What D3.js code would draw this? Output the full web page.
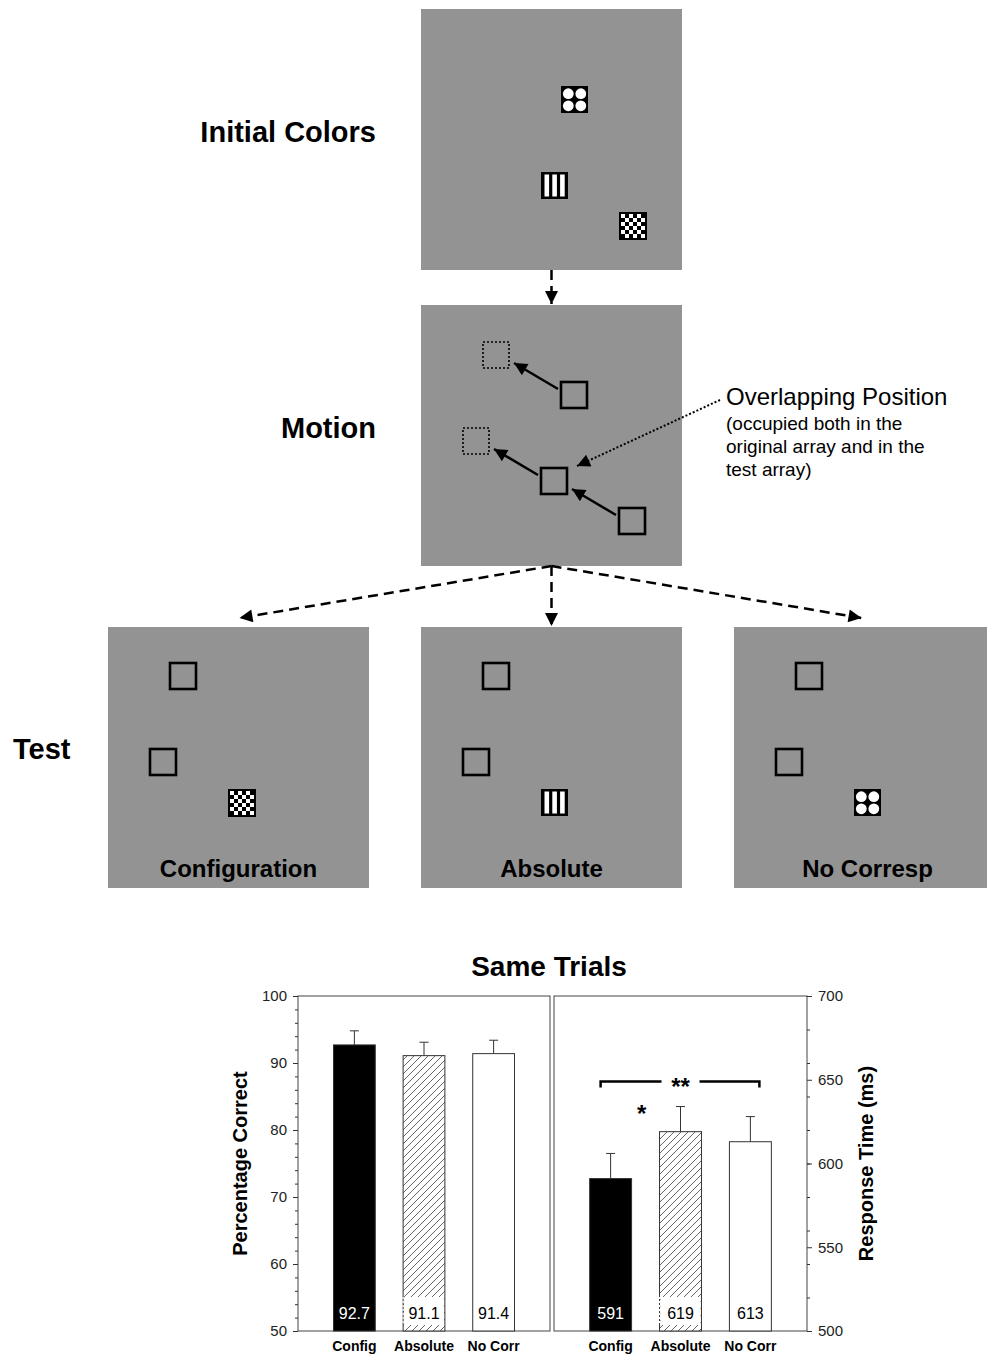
<!DOCTYPE html>
<html>
<head>
<meta charset="utf-8">
<script src="https://d3js.org/d3.v7.min.js"></script>
<style>
  body { margin: 0; background: #fff; }
  svg { display: block; font-family: "Liberation Sans", Arial, sans-serif; }
</style>
</head>
<body>
<div id="svg-container"></div>
<script>
////////////////////////////////////////////////////////////////////
////////////////////////////  Data  ////////////////////////////////
const conditions = ["Config", "Absolute", "No Corr"];
const accuracy = [92.7, 91.1, 91.4];
const accuracyErr = [2.1, 2.0, 2.0];
const responseTime = [591, 619, 613];
const responseTimeErr = [15, 15, 15];
const accTicks = [50, 60, 70, 80, 90, 100];
const rtTicks = [500, 550, 600, 650, 700];
const stepLabels = ["Initial Colors", "Motion", "Test"];
const testLabels = ["Configuration", "Absolute", "No Corresp"];
const testIcons = ["checker", "stripes", "dots"];
const itemIcons = ["dots", "stripes", "checker"];
const noteTitle = "Overlapping Position";
const noteLines = ["(occupied both in the", "original array and in the", "test array)"];
const checkerRows = ["101010", "010101", "101010", "010101", "101010", "010101"];

////////////////////////////////////////////////////////////////////
////////////////////////////  Init  ////////////////////////////////
const width = 987, height = 1355;
const svg = d3.select("#svg-container").append("svg")
    .attr("width", width).attr("height", height);

const grey = "#939393";
const P = 261; // panel size
const topPanel = { x: 421, y: 9 };
const motionPanel = { x: 421, y: 305 };
const testPanels = [108, 421, 734].map((x) => ({ x: x, y: 627 }));
const S = 27; // item size
const origPos = [[140, 77], [120, 163], [198, 203]];
const shift = [-78, -40];
const movedPos = origPos.map((p) => [p[0] + shift[0], p[1] + shift[1]]);

const defs = svg.append("defs");
defs.append("marker")
    .attr("id", "head")
    .attr("viewBox", "0 0 10 10")
    .attr("refX", 10).attr("refY", 5)
    .attr("markerWidth", 15).attr("markerHeight", 13)
    .attr("markerUnits", "userSpaceOnUse")
    .attr("orient", "auto")
    .append("path").attr("d", "M0,0 L10,5 L0,10 Z").attr("fill", "#000");

const hatch = defs.append("pattern")
    .attr("id", "hatch")
    .attr("patternUnits", "userSpaceOnUse")
    .attr("width", 7).attr("height", 7);
hatch.append("rect").attr("width", 7).attr("height", 7).attr("fill", "#fff");
hatch.append("path")
    .attr("d", "M-1,1 l2,-2 M0,7 l7,-7 M6,8 l2,-2")
    .attr("stroke", "#555").attr("stroke-width", 0.9);

// icon drawing
function drawIcon(g, type, x, y) {
    const ig = g.append("g").attr("transform", `translate(${x},${y})`);
    const s = type === "checker" ? 28 : S;
    ig.append("rect").attr("width", s).attr("height", s).attr("fill", "#000");
    if (type === "dots") {
        [[7.3, 7.7], [19.8, 7.7], [7.3, 19.8], [19.8, 19.8]].forEach((c) => {
            ig.append("circle").attr("cx", c[0]).attr("cy", c[1]).attr("r", 5.4).attr("fill", "#fff");
        });
    } else if (type === "stripes") {
        [3.5, 11.3, 19.1].forEach((sx) => {
            ig.append("rect").attr("x", sx).attr("y", 2.5)
                .attr("width", 4.6).attr("height", s - 5).attr("fill", "#fff");
        });
    } else {
        checkerRows.forEach((row, r) => {
            row.split("").forEach((c, k) => {
                if (c === "1") {
                    ig.append("rect").attr("x", 2 + k * 4).attr("y", 2 + r * 4)
                        .attr("width", 4).attr("height", 4).attr("fill", "#fff");
                }
            });
        });
    }
}

function panel(p) {
    const g = svg.append("g").attr("transform", `translate(${p.x},${p.y})`);
    g.append("rect").attr("width", P).attr("height", P).attr("fill", grey);
    return g;
}

function square(g, x, y, dotted) {
    g.append("rect").attr("x", x).attr("y", y).attr("width", S - 1).attr("height", S - 1)
        .attr("fill", "none").attr("stroke", "#000")
        .attr("stroke-width", dotted ? 1.6 : 2.6)
        .attr("stroke-dasharray", dotted ? "2,2" : null);
}

////////////////////////////////////////////////////////////////////
////////////////////////////  Diagram  /////////////////////////////
// step labels
svg.append("text").attr("x", 376).attr("y", 142).attr("text-anchor", "end")
    .attr("font-size", 29).attr("font-weight", "bold").text(stepLabels[0]);
svg.append("text").attr("x", 376).attr("y", 438).attr("text-anchor", "end")
    .attr("font-size", 29).attr("font-weight", "bold").text(stepLabels[1]);
svg.append("text").attr("x", 13).attr("y", 759)
    .attr("font-size", 29).attr("font-weight", "bold").text(stepLabels[2]);

// initial colors
const g0 = panel(topPanel);
itemIcons.forEach((t, i) => drawIcon(g0, t, origPos[i][0], origPos[i][1]));

// motion
const g1 = panel(motionPanel);
origPos.forEach((p, i) => {
    const m = movedPos[i];
    if (i < 2) square(g1, m[0], m[1], true);
    square(g1, p[0], p[1], false);
    g1.append("line")
        .attr("x1", p[0] - 3).attr("y1", p[1] + 7)
        .attr("x2", m[0] + S + 4).attr("y2", m[1] + S - 6)
        .attr("stroke", "#000").attr("stroke-width", 2.5)
        .attr("marker-end", "url(#head)");
});

// note
svg.append("text").attr("x", 726).attr("y", 405).attr("font-size", 24).text(noteTitle);
noteLines.forEach((t, i) => {
    svg.append("text").attr("x", 726).attr("y", 430 + i * 23).attr("font-size", 19).text(t);
});
svg.append("line")
    .attr("x1", 720).attr("y1", 400).attr("x2", 577).attr("y2", 466)
    .attr("stroke", "#000").attr("stroke-width", 2).attr("stroke-dasharray", "2,2")
    .attr("marker-end", "url(#head)");

// test panels
testPanels.forEach((p, i) => {
    const g = panel(p);
    square(g, movedPos[0][0], movedPos[0][1] - 1, false);
    square(g, movedPos[1][0], movedPos[1][1] - 1, false);
    drawIcon(g, testIcons[i], movedPos[2][0], movedPos[2][1] - 1);
    g.append("text").attr("x", P / 2 + (i === 2 ? 3 : 0)).attr("y", 250).attr("text-anchor", "middle")
        .attr("font-size", 24).attr("font-weight", "bold").text(testLabels[i]);
});

// dashed flow arrows
function dashedArrow(x1, y1, x2, y2) {
    svg.append("line")
        .attr("x1", x1).attr("y1", y1).attr("x2", x2).attr("y2", y2)
        .attr("stroke", "#000").attr("stroke-width", 2.5).attr("stroke-dasharray", "10,6")
        .attr("marker-end", "url(#head)");
}
const cx = topPanel.x + P / 2;
dashedArrow(cx, topPanel.y + P, cx, motionPanel.y - 1);
testPanels.forEach((p, i) => {
    const tx = p.x + P / 2;
    dashedArrow(cx, motionPanel.y + P, i === 1 ? tx : (i === 0 ? tx + 1 : tx - 3), i === 1 ? p.y - 1 : p.y - 9);
});

////////////////////////////////////////////////////////////////////
////////////////////////////  Bar chart  ///////////////////////////
const chartTop = 996, chartBottom = 1331;
const xLeft = d3.scaleBand().domain(conditions).range([298, 550]).paddingInner(0.4).paddingOuter(0.51);
const xRight = d3.scaleBand().domain(conditions).range([554, 807]).paddingInner(0.4).paddingOuter(0.51);
const yAcc = d3.scaleLinear().domain([50, 100]).range([chartBottom, chartTop]);
const yRt = d3.scaleLinear().domain([500, 700]).range([chartBottom, chartTop]);
const barFills = ["#000", "url(#hatch)", "#fff"];
const labelFills = ["#fff", "#000", "#000"];

svg.append("text").attr("x", 549).attr("y", 976).attr("text-anchor", "middle")
    .attr("font-size", 28).attr("font-weight", "bold").text("Same Trials");

function barPanel(x, y, values, errs, fmt) {
    const g = svg.append("g");
    g.append("rect")
        .attr("x", x.range()[0]).attr("y", chartTop)
        .attr("width", x.range()[1] - x.range()[0]).attr("height", chartBottom - chartTop)
        .attr("fill", "none").attr("stroke", "#444").attr("stroke-width", 1);

    const bw = x.bandwidth();
    // error bars
    conditions.forEach((c, i) => {
        const mx = x(c) + bw / 2;
        g.append("line").attr("x1", mx).attr("x2", mx)
            .attr("y1", y(values[i])).attr("y2", y(values[i] + errs[i]))
            .attr("stroke", "#333").attr("stroke-width", 1);
        g.append("line").attr("x1", mx - 4.5).attr("x2", mx + 4.5)
            .attr("y1", y(values[i] + errs[i])).attr("y2", y(values[i] + errs[i]))
            .attr("stroke", "#333").attr("stroke-width", 1);
    });
    g.selectAll(".bar").data(values).enter().append("rect")
        .attr("x", (d, i) => x(conditions[i]))
        .attr("y", (d) => y(d))
        .attr("width", bw)
        .attr("height", (d) => chartBottom - y(d))
        .attr("fill", (d, i) => barFills[i])
        .attr("stroke", "#333").attr("stroke-width", 1);
    // label box on hatched bar
    g.append("rect")
        .attr("x", x(conditions[1]) + 1).attr("y", 1297)
        .attr("width", bw - 2).attr("height", 28).attr("fill", "#fff");
    g.append("line")
        .attr("x1", x(conditions[1])).attr("x2", x(conditions[1]))
        .attr("y1", 1297).attr("y2", 1325)
        .attr("stroke", "#fff").attr("stroke-width", 1.2).attr("stroke-dasharray", "2,2");
    g.selectAll(".val").data(values).enter().append("text")
        .attr("x", (d, i) => x(conditions[i]) + bw / 2)
        .attr("y", 1319)
        .attr("text-anchor", "middle").attr("font-size", 16)
        .attr("fill", (d, i) => labelFills[i])
        .text((d) => fmt(d));
    g.selectAll(".xlab").data(conditions).enter().append("text")
        .attr("x", (d) => x(d) + bw / 2)
        .attr("y", 1351)
        .attr("text-anchor", "middle").attr("font-size", 14).attr("font-weight", "bold")
        .text((d) => d);
    return g;
}

barPanel(xLeft, yAcc, accuracy, accuracyErr, d3.format(".1f"));
barPanel(xRight, yRt, responseTime, responseTimeErr, d3.format("d"));

// axes
function styleAxis(sel) {
    sel.select(".domain").remove();
    sel.selectAll("line").attr("stroke", "#333");
    sel.selectAll("text").attr("font-size", 15).attr("fill", "#222")
        .attr("font-family", "Liberation Sans, Arial, sans-serif");
}
svg.append("g").attr("transform", "translate(298,0)")
    .call(d3.axisLeft(yAcc).tickValues(yAcc.ticks(25)).tickSize(3).tickFormat(""))
    .call(styleAxis);
svg.append("g").attr("transform", "translate(298,0)")
    .call(d3.axisLeft(yAcc).tickValues(accTicks).tickSize(5).tickPadding(6))
    .call(styleAxis);
svg.append("g").attr("transform", "translate(807,0)")
    .call(d3.axisRight(yRt).tickValues(yRt.ticks(8)).tickSize(3).tickFormat(""))
    .call(styleAxis);
svg.append("g").attr("transform", "translate(807,0)")
    .call(d3.axisRight(yRt).tickValues(rtTicks).tickSize(5).tickPadding(6))
    .call(styleAxis);

// axis titles
svg.append("text")
    .attr("transform", `translate(240,${(chartTop + chartBottom) / 2}) rotate(-90)`)
    .attr("text-anchor", "middle").attr("dominant-baseline", "central")
    .attr("font-size", 20).attr("font-weight", "bold").text("Percentage Correct");
svg.append("text")
    .attr("transform", `translate(866,${(chartTop + chartBottom) / 2}) rotate(-90)`)
    .attr("text-anchor", "middle").attr("dominant-baseline", "central")
    .attr("font-size", 20).attr("font-weight", "bold").text("Response Time (ms)");

// significance
const bw = xRight.bandwidth();
const bx1 = xRight("Config") + bw / 2 - 10;
const bx2 = xRight("No Corr") + bw / 2 + 9;
const by = yRt(649);
const mid = xRight("Absolute") + bw / 2;
svg.append("path")
    .attr("d", `M${bx1},${by + 6} V${by} H${mid - 19} M${mid + 19},${by} H${bx2} V${by + 6}`)
    .attr("fill", "none").attr("stroke", "#000").attr("stroke-width", 2.5);
svg.append("text").attr("x", mid).attr("y", by + 14).attr("text-anchor", "middle")
    .attr("font-size", 24).attr("font-weight", "bold").text("**");
svg.append("text")
    .attr("x", (xRight("Config") + xRight("Absolute") + bw) / 2 - 4)
    .attr("y", yRt(633) + 14).attr("text-anchor", "middle")
    .attr("font-size", 24).attr("font-weight", "bold").text("*");
</script>
</body>
</html>
